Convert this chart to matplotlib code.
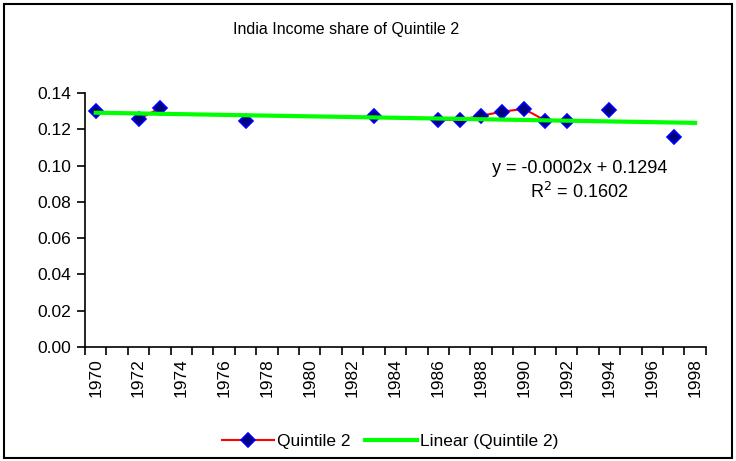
import matplotlib.pyplot as plt
import numpy as np
from matplotlib.patches import Rectangle

plt.rcParams['font.family'] = ['Liberation Sans', 'DejaVu Sans']

# Доля дохода второго квинтиля (Индия)
years = [1970, 1972, 1973, 1977, 1983, 1986, 1987, 1988, 1989, 1990, 1991, 1992, 1994, 1997]
share = [0.130, 0.1256, 0.1317, 0.1247, 0.1273, 0.1252, 0.1252, 0.1275, 0.1298,
         0.1313, 0.1249, 0.1249, 0.1308, 0.1160]

# Ось категорий: все годы, пропуски как NaN (линия рвётся)
all_years = np.arange(1970, 1999)
series = np.full(len(all_years), np.nan)
for y, v in zip(years, share):
    series[y - 1970] = v

# Линейный тренд (x = номер категории)
slope, intercept, r2 = -0.0002, 0.1294, 0.1602
trend = slope * (all_years - 1969) + intercept

fig = plt.figure(figsize=(7.36, 4.61), dpi=100)
ax = fig.add_axes([0.1155, 0.2473, 0.8435, 0.5507])

ax.plot(all_years, series, color='red', linewidth=1.5, marker='D', markersize=7.5,
        markerfacecolor='#000080', markeredgecolor='#0000ff', markeredgewidth=1.2,
        label='Quintile 2', zorder=2)
ax.plot(all_years, trend, color='#00ff00', linewidth=3, label='Linear (Quintile 2)', zorder=3)

ax.set_xlim(1969.5, 1998.5)
ax.set_ylim(0, 0.14)
ax.set_yticks(np.arange(0, 0.141, 0.02))
ax.set_yticklabels([f'{t:.2f}' for t in np.arange(0, 0.141, 0.02)])

# Засечки между категориями, подписи через год
ax.set_xticks(np.arange(1969.5, 1999, 1))
ax.set_xticklabels([])
ax.set_xticks(np.arange(1970, 1999, 2), minor=True)
ax.set_xticklabels([str(y) for y in range(1970, 1999, 2)], minor=True, rotation=90)
ax.tick_params(axis='x', which='minor', length=0, pad=8, labelsize=12.5)
ax.tick_params(axis='x', which='major', direction='out', length=6, width=1.2)
ax.tick_params(axis='y', direction='out', length=6, width=1.2, labelsize=12.5, pad=4)

for s in ['top', 'right']:
    ax.spines[s].set_visible(False)
for s in ['left', 'bottom']:
    ax.spines[s].set_linewidth(1.2)

fig.text(0.787, 0.607, f'y = {slope:.4f}x + {intercept:.4f}\nR$^2$ = {r2:.4f}',
         fontsize=13, ha='center', va='center', linespacing=1.3,
         multialignment='center')
fig.text(0.47, 0.935, 'India Income share of Quintile 2', ha='center', va='center', fontsize=11.5)

fig.legend(loc='center', bbox_to_anchor=(0.53, 0.043), ncol=2, frameon=False,
           fontsize=12.5, handlelength=3, columnspacing=0.8, handletextpad=0.2)

fig.add_artist(Rectangle((0.005, 0.007), 0.99, 0.985, transform=fig.transFigure,
                         fill=False, edgecolor='black', linewidth=1.5))

fig.savefig('out.png', dpi=100)
